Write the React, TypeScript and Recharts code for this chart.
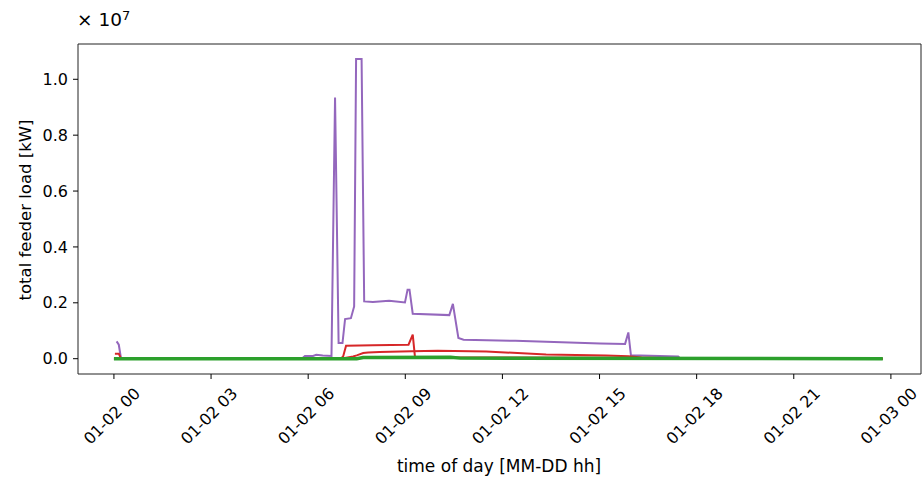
import React from 'react';
import { LineChart, Line, XAxis, YAxis, ReferenceArea } from 'recharts';

// time axis is in hours since 01-02 00:00, load in units of 1e7 kW
const xTickHours = [0, 3, 6, 9, 12, 15, 18, 21, 24];
const xTickLabels = [
  '01-02 00', '01-02 03', '01-02 06', '01-02 09', '01-02 12',
  '01-02 15', '01-02 18', '01-02 21', '01-03 00',
];
const yTicks = [0, 0.2, 0.4, 0.6, 0.8, 1.0];

const purpleHours = [
  0.083, 0.15, 0.22, 5.8, 5.9, 6.15, 6.25, 6.45, 6.72, 6.83, 6.94, 7.06, 7.14, 7.32,
  7.42, 7.48, 7.65, 7.73, 8.0, 8.5, 8.99, 9.07, 9.13, 9.23, 10.36, 10.47, 10.64, 10.8,
  12.4, 15.02, 15.79, 15.89, 15.97, 17.43, 17.5, 23.75,
];
const purpleLoad = [
  0.062, 0.05, 0.0, 0.0, 0.01, 0.01, 0.014, 0.011, 0.01, 0.935, 0.056, 0.056, 0.142, 0.145,
  0.187, 1.0726, 1.0726, 0.205, 0.203, 0.207, 0.201, 0.247, 0.247, 0.161, 0.156, 0.196, 0.074, 0.068,
  0.064, 0.054, 0.053, 0.094, 0.012, 0.008, 0.0, 0.0,
];

const redAHours = [0.03, 0.15, 0.22, 7.0, 7.08, 7.17, 8.0, 9.1, 9.23, 9.3, 23.75];
const redALoad = [0.018, 0.018, 0.0, 0.0, 0.008, 0.046, 0.048, 0.05, 0.086, 0.005, 0.0];

const redBHours = [0, 7.0, 7.39, 7.5, 7.7, 7.85, 8.2, 9.2, 10.0, 11.5, 13.35, 15.2, 15.9, 16.3, 17.0, 23.75];
const redBLoad = [0, 0.0, 0.008, 0.012, 0.02, 0.022, 0.024, 0.027, 0.028, 0.026, 0.015, 0.011, 0.009, 0.004, 0.002, 0];

const greenHours = [0, 7.5, 7.7, 10.4, 10.7, 23.75];
const greenLoad = [0, 0, 0.004, 0.005, 0.002, 0];

const toPoints = (hours: number[], load: number[]) => hours.map((h, i) => ({ h, v: load[i] }));

const purpleData = toPoints(purpleHours, purpleLoad);
const redAData = toPoints(redAHours, redALoad);
const redBData = toPoints(redBHours, redBLoad);
const greenData = toPoints(greenHours, greenLoad);

const X_DOMAIN: [number, number] = [-1.11, 24.93];
const Y_DOMAIN: [number, number] = [-0.0548, 1.1263];
const FONT = '"DejaVu Sans", sans-serif';

function XTick(props: any) {
  const { x, y, payload } = props;
  const label = xTickLabels[xTickHours.indexOf(payload.value)] ?? '';
  const cy = y + 32;
  return (
    <text
      x={x - 2}
      y={cy}
      transform={`rotate(-45 ${x - 2} ${cy})`}
      textAnchor="middle"
      dominantBaseline="central"
      fontSize={16}
      fontFamily={FONT}
      fill="#000"
    >
      {label}
    </text>
  );
}

export default function App() {
  return (
    <div
      style={{
        position: 'absolute',
        left: 0,
        top: 0,
        width: 923,
        height: 477,
        background: '#fff',
        fontFamily: FONT,
        color: '#000',
      }}
    >
      <LineChart width={923} height={477} margin={{ top: 44, right: 2, bottom: 43, left: 18 }}>
        <XAxis
          type="number"
          dataKey="h"
          domain={X_DOMAIN}
          allowDataOverflow
          ticks={xTickHours}
          interval={0}
          tick={<XTick />}
          tickSize={5}
          tickMargin={5}
          tickLine={{ stroke: '#000' }}
          axisLine={false}
          height={60}
        />
        <YAxis
          type="number"
          domain={Y_DOMAIN}
          allowDataOverflow
          ticks={yTicks}
          interval={0}
          tickFormatter={(v: number) => v.toFixed(1)}
          tick={{ fill: '#000', fontSize: 16, fontFamily: FONT }}
          tickSize={5}
          tickMargin={5}
          tickLine={{ stroke: '#000' }}
          axisLine={false}
          width={60}
        />
        <Line data={purpleData} dataKey="v" stroke="#9467bd" strokeWidth={2} dot={false} activeDot={false} isAnimationActive={false} />
        <Line data={redAData} dataKey="v" stroke="#d62728" strokeWidth={2} dot={false} activeDot={false} isAnimationActive={false} />
        <Line data={redBData} dataKey="v" stroke="#d62728" strokeWidth={2} dot={false} activeDot={false} isAnimationActive={false} />
        <Line data={greenData} dataKey="v" stroke="#2ca02c" strokeWidth={3.4} dot={false} activeDot={false} isAnimationActive={false} />
        <ReferenceArea
          x1={X_DOMAIN[0]}
          x2={X_DOMAIN[1]}
          y1={Y_DOMAIN[0]}
          y2={Y_DOMAIN[1]}
          fill="none"
          stroke="#222"
          strokeWidth={1}
        />
      </LineChart>
      <div
        style={{
          position: 'absolute',
          left: 77,
          top: 9,
          fontSize: 18.5,
          lineHeight: '22px',
          whiteSpace: 'nowrap',
        }}
      >
        ×&nbsp;10<sup style={{ fontSize: 13, verticalAlign: 'top', position: 'relative', top: -4 }}>7</sup>
      </div>
      <div
        style={{
          position: 'absolute',
          left: 25,
          top: 210,
          fontSize: 16.5,
          whiteSpace: 'nowrap',
          transform: 'translate(-50%, -50%) rotate(-90deg)',
        }}
      >
        total feeder load [kW]
      </div>
      <div
        style={{
          position: 'absolute',
          left: 499,
          top: 466,
          fontSize: 17,
          whiteSpace: 'nowrap',
          transform: 'translate(-50%, -50%)',
        }}
      >
        time of day [MM-DD hh]
      </div>
    </div>
  );
}
